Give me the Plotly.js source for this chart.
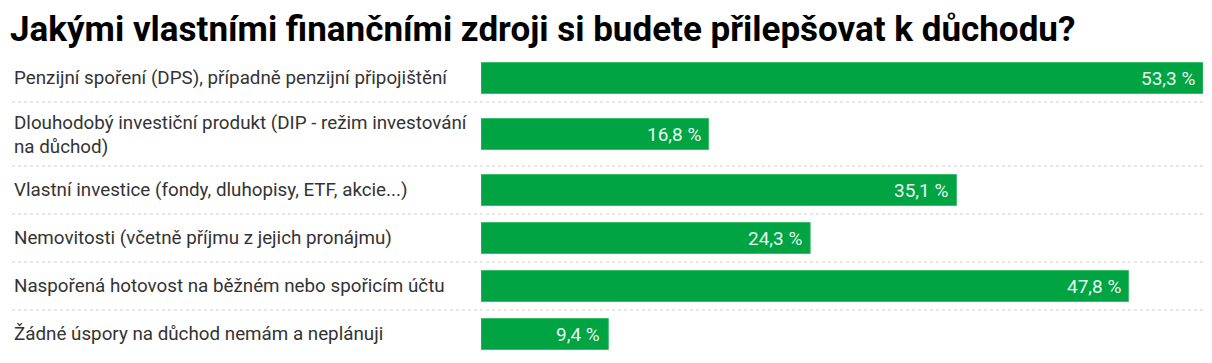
<!DOCTYPE html>
<html><head><meta charset="utf-8">
<script src="https://cdn.plot.ly/plotly-3.0.1.min.js"></script>
<style>html,body{margin:0;padding:0;background:#fff}</style>
</head><body><div id="chart" style="width:1212px;height:363px"></div>
<script>
const titleText = "Jakými vlastními finančními zdroji si budete přilepšovat k důchodu?";
const categories = [
  "Penzijní spoření (DPS), případně penzijní připojištění",
  "Dlouhodobý investiční produkt (DIP - režim investování<br>na důchod)",
  "Vlastní investice (fondy, dluhopisy, ETF, akcie...)",
  "Nemovitosti (včetně příjmu z jejich pronájmu)",
  "Naspořená hotovost na běžném nebo spořicím účtu",
  "Žádné úspory na důchod nemám a neplánuji"
];
const values = [53.3, 16.8, 35.1, 24.3, 47.8, 9.4];

// layout constants
const W = 1212, H = 363;
const L = 481, R = 9, T = 54, B = 5;
const plotW = W - L - R;
const baseRow = 48, extraLine = 16, barH = 31;

// row positions computed from label line counts
const heights = categories.map(c => baseRow + extraLine * (c.split('<br>').length - 1));
const centers = [];
const bounds = [];
let acc = 0;
heights.forEach((h, i) => { centers.push(acc + h / 2); acc += h; bounds.push(acc); });
const total = acc;

const fmt = v => v.toFixed(1).replace('.', ',') + ' %';

const trace = {
  type: 'bar',
  orientation: 'h',
  x: values,
  y: centers,
  width: barH,
  marker: { color: '#00a443', line: { color: '#3cbc6c', width: 1 } },
  hoverinfo: 'skip',
  showlegend: false
};

const annotations = [];
categories.forEach((c, i) => {
  annotations.push({
    xref: 'paper', yref: 'y',
    x: (12 - L) / plotW, y: centers[i] + (c.includes('<br>') ? 1 : 0),
    xanchor: 'left', yanchor: 'middle', align: 'left',
    text: c, showarrow: false,
    font: { family: 'Roboto', size: 18.8, color: '#333333' }
  });
  annotations.push({
    xref: 'x', yref: 'y',
    x: values[i], y: centers[i],
    xanchor: 'right', yanchor: 'middle', xshift: -6,
    text: fmt(values[i]), showarrow: false,
    font: { family: 'Roboto', size: 19, color: '#e8f7ee' }
  });
});

const shapes = bounds.slice(0, -1).map(b => ({
  type: 'line', xref: 'paper', yref: 'y',
  x0: (12 - L) / plotW, x1: 1.0, y0: b, y1: b,
  line: { color: '#d0d0d0', width: 1, dash: 'dot' }
}));

const layout = {
  width: W, height: H,
  margin: { l: L, r: R, t: T, b: B, pad: 0 },
  paper_bgcolor: '#ffffff', plot_bgcolor: '#ffffff',
  title: {
    text: titleText,
    xref: 'container', yref: 'container',
    x: 10 / W, xanchor: 'left',
    y: 1 - 29 / H, yanchor: 'middle',
    font: { family: 'Roboto', size: 35, color: '#000000', weight: 'bold' }
  },
  xaxis: { range: [0, 53.3], visible: false, fixedrange: true },
  yaxis: { range: [total, 0], visible: false, fixedrange: true },
  annotations: annotations,
  shapes: shapes,
  bargap: 0
};

Plotly.newPlot('chart', [trace], layout, { displayModeBar: false, staticPlot: true });
</script>
</body></html>
